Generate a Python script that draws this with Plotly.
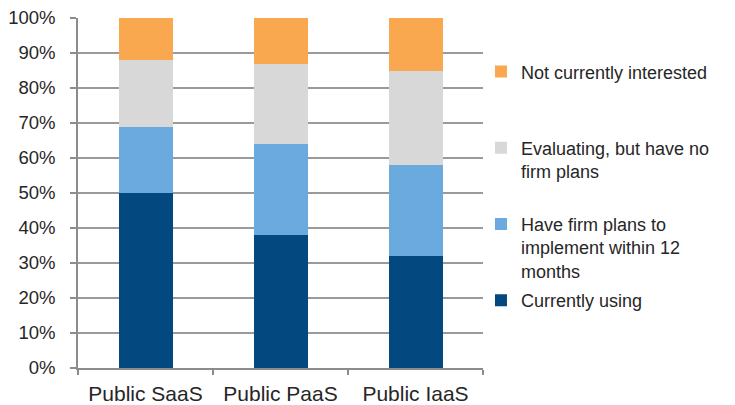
import plotly.graph_objects as go

categories = ["Public SaaS", "Public PaaS", "Public IaaS"]
currently_using = [50, 38, 32]
firm_plans = [19, 26, 26]
evaluating = [19, 23, 27]
not_interested = [12, 13, 15]
y_ticks = [0, 10, 20, 30, 40, 50, 60, 70, 80, 90, 100]

series = [
    ("Currently using", currently_using, "#03487f", 4),
    ("Have firm plans to<br>implement within 12<br>months", firm_plans, "#6aaade", 3),
    ("Evaluating, but have no<br>firm plans<br> ", evaluating, "#d8d8d8", 2),
    ("Not currently interested<br> <br> ", not_interested, "#f9a84f", 1),
]

fig = go.Figure()
for i, (name, vals, color, rank) in enumerate(series):
    fig.add_trace(go.Bar(
        x=categories, y=vals, name=name, marker_color=color,
        marker_line_width=0, width=0.4, legendgroup="g%d" % i,
        legendrank=rank,
    ))

family = "Liberation Sans, Arial, sans-serif"
txt = "#262626"
fig.update_layout(
    barmode="stack",
    width=727, height=397,
    margin=dict(l=70, r=252, t=10, b=37, autoexpand=False),
    paper_bgcolor="white", plot_bgcolor="white",
    font=dict(family=family, size=18, color=txt),
    showlegend=True,
    legend=dict(
        x=0.995, xanchor="left", y=0.899, yanchor="top",
        traceorder="grouped", tracegroupgap=3, valign="top",
        font=dict(family=family, size=18, color=txt), bgcolor="rgba(0,0,0,0)",
    ),
)
fig.update_yaxes(
    range=[0, 100], tickvals=y_ticks, ticktext=["%d%%" % v for v in y_ticks],
    tickfont=dict(family=family, size=18.5, color=txt),
    showgrid=True, gridcolor="#9a9a9a", gridwidth=1.5,
    showline=True, linecolor="#8c8c8c", linewidth=1.5,
    ticks="outside", ticklen=6, tickcolor="#8c8c8c", tickwidth=1.5,
    ticklabelstandoff=11, zeroline=False, automargin=False,
    ticklabeloverflow="allow",
)
fig.update_xaxes(
    tickfont=dict(family=family, size=21, color=txt),
    showline=True, linecolor="#8c8c8c", linewidth=1.5,
    ticks="outside", tickson="boundaries", ticklen=5, tickcolor="#8c8c8c", tickwidth=1.5,
    ticklabelstandoff=6, showgrid=False, automargin=False,
    ticklabeloverflow="allow",
)
fig.write_html("out.html")
